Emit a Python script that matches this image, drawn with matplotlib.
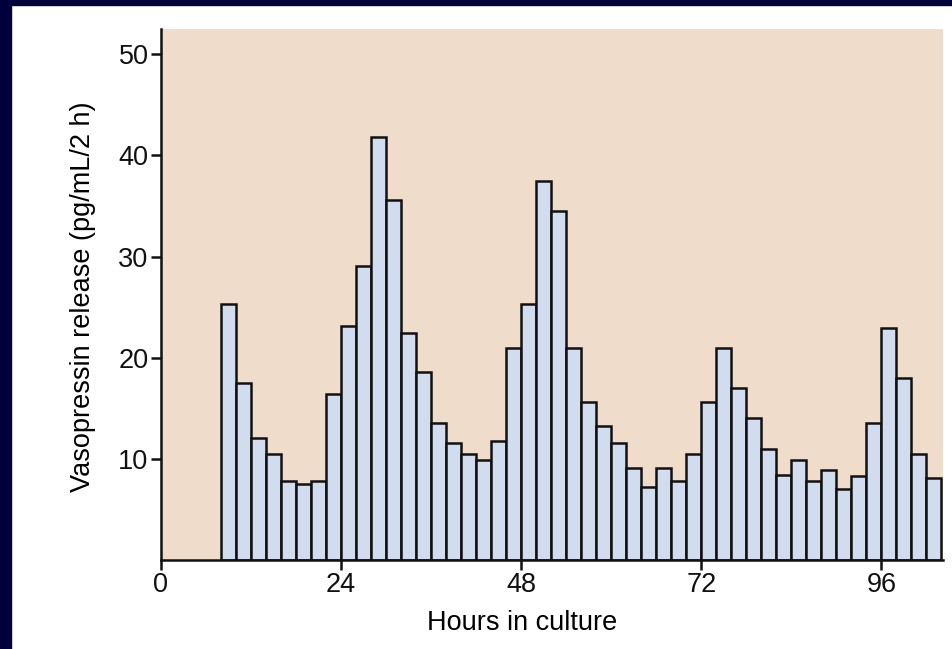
import matplotlib
matplotlib.use("Agg")
import matplotlib.pyplot as plt
from matplotlib.patches import Rectangle

plt.rcParams['font.family'] = ['Liberation Sans', 'DejaVu Sans']

# 2-h collection bins, start hour of each bin
hours = list(range(8, 104, 2))
release = [25.3, 17.5, 12.1, 10.5, 7.8, 7.5, 7.8, 16.4, 23.1, 29.1,
           41.8, 35.6, 22.4, 18.6, 13.5, 11.6, 10.5, 9.9, 11.8, 21.0,
           25.3, 37.5, 34.5, 21.0, 15.6, 13.2, 11.6, 9.1, 7.2, 9.1,
           7.8, 10.5, 15.6, 21.0, 17.0, 14.0, 11.0, 8.4, 9.9, 7.8,
           8.9, 7.0, 8.3, 13.5, 22.9, 18.0, 10.5, 8.1]
xticks = [0, 24, 48, 72, 96]
yticks = [10, 20, 30, 40, 50]

fig = plt.figure(figsize=(9.52, 6.49), dpi=100)
fig.patch.set_facecolor('white')

# dark frame on left and top
fig.patches.append(Rectangle((0, 0), 11 / 952, 1, transform=fig.transFigure,
                             color='#00003c', zorder=0))
fig.patches.append(Rectangle((0, 1 - 5 / 649), 1, 5 / 649, transform=fig.transFigure,
                             color='#00003c', zorder=0))

ax = fig.add_axes([161 / 952, 1 - 560 / 649, (943 - 161) / 952, (560 - 29) / 649])
ax.set_facecolor('#f0dccb')

ax.bar(hours, release, width=2, align='edge', color='#d1dcee',
       edgecolor='#111111', linewidth=1.8)

ax.set_xlim(0, 104.2)
ax.set_ylim(0, 52.5)
ax.set_xticks(xticks)
ax.set_yticks(yticks)
ax.tick_params(axis='both', direction='out', length=7, width=1.8,
               labelsize=19.5, colors='#111111')
ax.tick_params(axis='x', pad=2)
ax.tick_params(axis='y', pad=2)

for s in ['top', 'right']:
    ax.spines[s].set_visible(False)
for s in ['left', 'bottom']:
    ax.spines[s].set_linewidth(1.8)
    ax.spines[s].set_color('#111111')

ax.set_xlabel('Hours in culture', fontsize=19.5)
ax.set_ylabel('Vasopressin release (pg/mL/2 h)', fontsize=19.5)
ax.xaxis.set_label_coords(0.462, -0.095)
ax.yaxis.set_label_coords(-0.083, 0.495)

fig.savefig('out.png', dpi=100)
